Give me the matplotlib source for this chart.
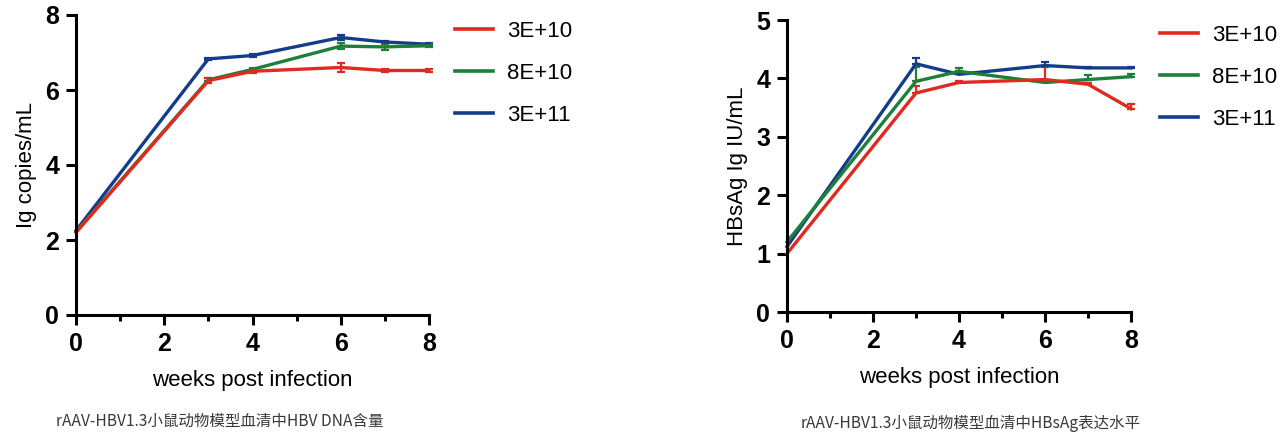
import numpy as np
import matplotlib.pyplot as plt

# 데이터
weeks = [0, 3, 4, 6, 7, 8]
doses = ['3E+10', '8E+10', '3E+11']
colors = ['#e0291f', '#1e7f3a', '#133d8b']

dna_mean = [
    [2.20, 6.25, 6.50, 6.60, 6.52, 6.52],
    [2.22, 6.27, 6.55, 7.17, 7.15, 7.18],
    [2.25, 6.83, 6.92, 7.40, 7.28, 7.22],
]
dna_err = [
    [0.03, 0.06, 0.04, 0.13, 0.03, 0.03],
    [0.03, 0.04, 0.04, 0.08, 0.07, 0.04],
    [0.03, 0.03, 0.03, 0.06, 0.03, 0.03],
]

hbsag_mean = [
    [1.00, 3.75, 3.93, 3.98, 3.90, 3.48],
    [1.20, 3.95, 4.12, 3.93, 3.98, 4.03],
    [1.12, 4.25, 4.07, 4.22, 4.18, 4.18],
]
hbsag_err = [
    [0.00, 0.12, 0.02, 0.22, 0.02, 0.09],
    [0.00, 0.25, 0.06, 0.02, 0.07, 0.04],
    [0.00, 0.10, 0.02, 0.06, 0.02, 0.02],
]

captions = ['rAAV-HBV1.3小鼠动物模型血清中HBV DNA含量',
            'rAAV-HBV1.3小鼠动物模型血清中HBsAg表达水平']

plt.rcParams['font.family'] = ['Liberation Sans', 'DejaVu Sans']

fig = plt.figure(figsize=(12.8, 4.38), dpi=100)
ax1 = fig.add_axes([76/1280, 1-315/438, (429-76)/1280, 300/438])
ax2 = fig.add_axes([787/1280, 1-312/438, (1131-787)/1280, 292/438])


def style(ax, ymax, ystep, ylabel):
    for s in ['top', 'right']:
        ax.spines[s].set_visible(False)
    for s in ['left', 'bottom']:
        ax.spines[s].set_linewidth(2.2)
    ax.set_xlim(0, 8)
    ax.set_ylim(0, ymax)
    ax.set_xticks([0, 2, 4, 6, 8])
    ax.set_xticks([1, 3, 5, 7], minor=True)
    ax.set_yticks(np.arange(0, ymax + 0.1, ystep))
    ax.tick_params(which='major', length=7, width=2.2, pad=5)
    ax.tick_params(which='minor', length=4, width=2.2)
    for lab in ax.get_xticklabels() + ax.get_yticklabels():
        lab.set_fontweight('bold')
        lab.set_fontsize(18)
    ax.set_xlabel('weeks post infection', fontsize=16, labelpad=10)
    ax.set_ylabel(ylabel, fontsize=16, labelpad=6)


# 왼쪽: HBV DNA
for i in [2, 1, 0]:
    ax1.errorbar(weeks, dna_mean[i], yerr=dna_err[i], color=colors[i], lw=2.4,
                 capsize=3, elinewidth=1.6, capthick=1.6, errorevery=(1, 1),
                 label=doses[i], clip_on=False)
style(ax1, 8, 2, 'Ig copies/mL')

# 오른쪽: HBsAg (위쪽 오차막대만)
for i in [2, 1, 0]:
    up = np.array(hbsag_err[i])
    ax2.errorbar(weeks, hbsag_mean[i], yerr=[np.zeros_like(up), up], color=colors[i],
                 lw=2.4, capsize=3, elinewidth=1.6, capthick=1.6, errorevery=(1, 1),
                 label=doses[i], clip_on=False)
style(ax2, 5, 1, 'HBsAg Ig IU/mL')

# 범례 (축 바깥 오른쪽 위)
for x0, y0 in [(455, 21), (1160, 25)]:
    lines = [plt.Line2D([], [], color=c, lw=2.6) for c in colors]
    fig.legend(lines, doses, loc='upper left', bbox_to_anchor=(x0/1280, 1 - y0/438),
               frameon=False, fontsize=16, handlelength=1.7, handletextpad=0.65,
               labelspacing=0.95, borderpad=0, borderaxespad=0)

fig.text(220/1280, 1-421/438, captions[0], ha='center', va='center', fontsize=11.2,
         color='#3a3a3a', family=['Noto Sans CJK SC', 'DejaVu Sans'])
fig.text(971/1280, 1-423/438, captions[1], ha='center', va='center', fontsize=11.2,
         color='#3a3a3a', family=['Noto Sans CJK SC', 'DejaVu Sans'])

fig.savefig('out.png', dpi=100)
